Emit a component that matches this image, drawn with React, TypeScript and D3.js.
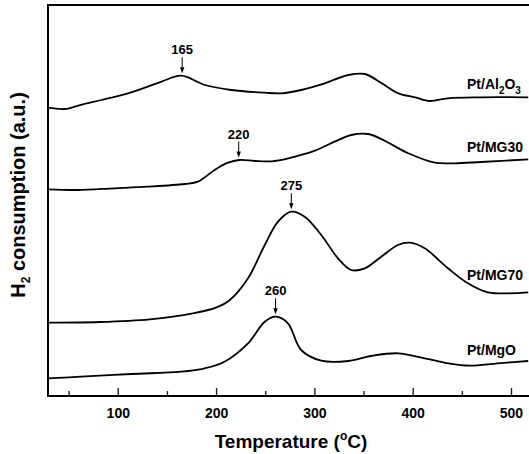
import React, { useEffect, useRef } from "react";
import * as d3 from "d3";

// temperature (C) and H2 signal (a.u.)
const al2o3Temp = [28.5, 45.5, 62, 83, 110, 130, 144, 164, 188, 215, 249, 266, 286, 310, 334, 351, 368, 385, 402, 417, 435, 469, 517];
const al2o3Val = [288.3, 287, 291.2, 296, 302.7, 309.3, 314.3, 320.3, 311, 306, 303.3, 302.7, 306, 312.7, 321, 322, 312.7, 302.7, 298.7, 295, 297.7, 298.7, 298.7];

const mg30Temp = [28.5, 59, 96, 130, 167.5, 181, 198, 211.6, 223, 239, 256, 273, 300, 320, 337, 354, 371, 395, 422, 442, 469, 517];
const mg30Val = [206.7, 206, 207.7, 209.3, 212, 214.3, 226, 233.3, 236, 235, 234.7, 237.7, 245.3, 254.3, 261, 262, 255.3, 242.7, 233.3, 232.7, 234, 236.7];

const mg70Temp = [29, 81, 132, 176, 200, 213.5, 232, 249, 262.5, 276, 289.6, 306.5, 323.5, 337, 350.7, 367.5, 384.5, 396.4, 411.7, 435.4, 455.7, 476, 517];
const mg70Val = [73.3, 74, 76.7, 82.7, 88.7, 96, 117.7, 151, 174.3, 184.3, 179.3, 161, 137.7, 126, 127.7, 139.3, 151, 153.3, 147.7, 127.7, 112.7, 103.7, 103.7];

const mgoTemp = [28.5, 62, 113, 164, 188, 208, 232, 249, 260, 272.6, 286, 306.5, 334, 357, 384.5, 411.7, 435.4, 457.5, 486, 517];
const mgoVal = [17.7, 19.3, 22, 24.3, 27.7, 34.3, 52.7, 74.3, 79.3, 72.7, 46, 35.3, 35, 40, 42.7, 37.7, 32.7, 30.3, 32.7, 35];

const seriesNames = ["Pt/Al2O3", "Pt/MG30", "Pt/MG70", "Pt/MgO"];
const labelLevels = [307, 244, 116, 41];

const peakLabels = ["165", "220", "275", "260"];
const peakTemps = [165, 222.5, 276, 260];
const peakVals = [320.3, 236, 184.3, 79.3];

const xTicks = [100, 200, 300, 400, 500];
const xMinorTicks = [50, 150, 250, 350, 450];

function App() {
  const ref = useRef<SVGSVGElement>(null);

  useEffect(() => {
    const width = 529;
    const marginLeft = 48;
    const marginTop = 5;
    const bottom = 396;

    const svg = d3.select(ref.current);
    svg.selectAll("*").remove();

    const x = d3.scaleLinear().domain([28.5, 550]).range([marginLeft, marginLeft + 521.5 * 0.983]);
    const y = d3.scaleLinear().domain([0, 392]).range([bottom, bottom - 392]);

    const font = "'Liberation Sans', Arial, sans-serif";

    // frame: top, left, bottom (right side runs off the picture)
    svg.append("path")
      .attr("fill", "none")
      .attr("stroke", "black")
      .attr("stroke-width", 2)
      .attr("d", `M${width + 5},${marginTop}L${marginLeft},${marginTop}L${marginLeft},${bottom}L${width + 5},${bottom}`);

    const line = d3.line<[number, number]>()
      .x(d => x(d[0]))
      .y(d => y(d[1]))
      .curve(d3.curveCatmullRom.alpha(0.5));

    const temps = [al2o3Temp, mg30Temp, mg70Temp, mgoTemp];
    const vals = [al2o3Val, mg30Val, mg70Val, mgoVal];

    temps.forEach((t, i) => {
      const pts: [number, number][] = t.map((tt, j) => [tt, vals[i][j]]);
      svg.append("path")
        .attr("fill", "none")
        .attr("stroke", "#000")
        .attr("stroke-width", 1.8)
        .attr("stroke-linejoin", "round")
        .attr("d", line(pts));
    });

    // inward ticks, major and minor
    const ticks = svg.append("g");
    ticks.selectAll("line.major")
      .data(xTicks)
      .enter()
      .append("line")
      .attr("class", "major")
      .attr("x1", d => x(d)).attr("x2", d => x(d))
      .attr("y1", bottom).attr("y2", bottom - 8)
      .attr("stroke", "#222").attr("stroke-width", 1.4);
    ticks.selectAll("line.minor")
      .data(xMinorTicks)
      .enter()
      .append("line")
      .attr("class", "minor")
      .attr("x1", d => x(d)).attr("x2", d => x(d))
      .attr("y1", bottom).attr("y2", bottom - 5)
      .attr("stroke", "#222").attr("stroke-width", 1.4);
    ticks.selectAll("text")
      .data(xTicks)
      .enter()
      .append("text")
      .attr("x", d => x(d))
      .attr("y", bottom + 22)
      .attr("text-anchor", "middle")
      .attr("font-family", font)
      .attr("font-weight", "bold")
      .attr("font-size", 14)
      .attr("fill", "#000")
      .text(d => String(d));

    // series labels
    seriesNames.forEach((name, i) => {
      const t = svg.append("text")
        .attr("x", 467)
        .attr("y", y(labelLevels[i]))
        .attr("font-family", font)
        .attr("font-weight", "bold")
        .attr("font-size", 14)
        .attr("fill", "#000");
      if (name === "Pt/Al2O3") {
        t.append("tspan").text("Pt/Al");
        t.append("tspan").attr("font-size", 10).attr("dy", 5).text("2");
        t.append("tspan").attr("dy", -5).text("O");
        t.append("tspan").attr("font-size", 10).attr("dy", 5).text("3");
      } else {
        t.text(name);
      }
    });

    // peak arrows
    peakLabels.forEach((lab, i) => {
      const px = x(peakTemps[i]);
      const tip = y(peakVals[i]) - 2.5;
      const top = tip - 16;
      svg.append("line")
        .attr("x1", px).attr("x2", px)
        .attr("y1", top).attr("y2", tip - 4)
        .attr("stroke", "#000")
        .attr("stroke-width", 1);
      svg.append("path")
        .attr("d", `M${px - 2.2},${tip - 6}L${px + 2.2},${tip - 6}L${px},${tip}Z`)
        .attr("fill", "#000");
      svg.append("text")
        .attr("x", px)
        .attr("y", top - 3)
        .attr("text-anchor", "middle")
        .attr("font-family", font)
        .attr("font-weight", "bold")
        .attr("font-size", 13)
        .attr("fill", "#000")
        .text(lab);
    });

    // axis titles
    const xt = svg.append("text")
      .attr("x", 291)
      .attr("y", 448)
      .attr("text-anchor", "middle")
      .attr("font-family", font)
      .attr("font-weight", "bold")
      .attr("font-size", 19)
      .attr("fill", "#000");
    xt.append("tspan").text("Temperature (");
    xt.append("tspan").attr("font-size", 12).attr("dy", -8).text("o");
    xt.append("tspan").attr("dy", 8).text("C)");

    const yt = svg.append("text")
      .attr("transform", "translate(25,195) rotate(-90)")
      .attr("text-anchor", "middle")
      .attr("font-family", font)
      .attr("font-weight", "bold")
      .attr("font-size", 20)
      .attr("fill", "#000");
    yt.append("tspan").text("H");
    yt.append("tspan").attr("font-size", 12).attr("dy", 5).text("2");
    yt.append("tspan").attr("dy", -5).text(" consumption (a.u.)");
  }, []);

  return (
    <svg
      ref={ref}
      width={529}
      height={454}
      style={{ position: "absolute", left: 0, top: 0, background: "#fff" }}
    />
  );
}

export default App;
